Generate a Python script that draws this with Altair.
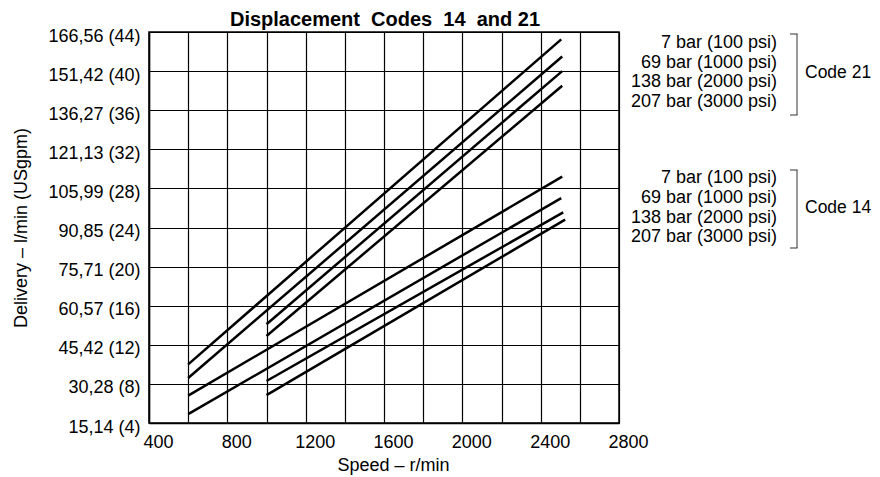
import altair as alt
import pandas as pd

# ---- data ----
series = [
    "Code 21 – 7 bar (100 psi)", "Code 21 – 69 bar (1000 psi)",
    "Code 21 – 138 bar (2000 psi)", "Code 21 – 207 bar (3000 psi)",
    "Code 14 – 7 bar (100 psi)", "Code 14 – 69 bar (1000 psi)",
    "Code 14 – 138 bar (2000 psi)", "Code 14 – 207 bar (3000 psi)",
]
speed_start = [600, 600, 1000, 1000, 600, 600, 1000, 1000]
speed_end = [2505, 2510, 2510, 2510, 2510, 2505, 2515, 2525]
gpm_start = [10.0, 8.6, 14.1, 12.9, 6.8, 4.9, 8.3, 6.85]
gpm_end = [43.25, 41.5, 40.0, 38.5, 29.2, 27.0, 25.55, 24.8]

y_ticks = [4, 8, 12, 16, 20, 24, 28, 32, 36, 40, 44]
y_tick_labels = ["15,14 (4)", "30,28 (8)", "45,42 (12)", "60,57 (16)", "75,71 (20)",
                 "90,85 (24)", "105,99 (28)", "121,13 (32)", "136,27 (36)",
                 "151,42 (40)", "166,56 (44)"]
x_grid = list(range(400, 2801, 200))

legend_rows = ["7 bar (100 psi)", "69 bar (1000 psi)", "138 bar (2000 psi)", "207 bar (3000 psi)"]
group_names = ["Code 21", "Code 14"]
chart_title = "Displacement\u00a0\u00a0Codes\u00a0\u00a014\u00a0\u00a0and 21"

rows = []
for s, x0, x1, y0, y1 in zip(series, speed_start, speed_end, gpm_start, gpm_end):
    rows.append({"series": s, "speed": x0, "gpm": y0})
    rows.append({"series": s, "speed": x1, "gpm": y1})
df = pd.DataFrame(rows)

FONT = "Liberation Sans"
label_arr = "[" + ",".join("'%s'" % t for t in y_tick_labels) + "]"

lines = alt.Chart(df).mark_line(color="black", strokeWidth=2.5).encode(
    x=alt.X("speed:Q",
            scale=alt.Scale(domain=[400, 2800], nice=False, zero=False),
            axis=alt.Axis(values=x_grid, grid=True, ticks=False,
                          labelExpr="datum.value % 400 == 0 ? datum.value : ''",
                          labelOverlap=False, labelFlush=False, labelBound=False,
                          labelOffset=9, labelPadding=10,
                          title="Speed – r/min", titleX=244, titlePadding=5)),
    y=alt.Y("gpm:Q",
            scale=alt.Scale(domain=[4, 44], nice=False, zero=False),
            axis=alt.Axis(values=y_ticks, grid=True, ticks=False,
                          labelExpr=label_arr + "[round(datum.value/4)-1]",
                          labelOverlap=False, labelFlush=False, labelBound=False,
                          labelPadding=9, labelOffset=4,
                          title="Delivery – l/min (USgpm)", titlePadding=17)),
    detail="series:N",
)

one = alt.Data(values=[{}])

title = alt.Chart(one).mark_text(
    text=chart_title, font=FONT, fontSize=20, fontWeight="bold",
    align="center", baseline="alphabetic", color="black",
).encode(x=alt.value(236), y=alt.value(-6))

leg21 = alt.Chart(one).mark_text(
    text=legend_rows, font=FONT, fontSize=18, align="right", baseline="middle",
    lineHeight=19.6, color="black",
).encode(x=alt.value(628), y=alt.value(11))

leg14 = alt.Chart(one).mark_text(
    text=legend_rows, font=FONT, fontSize=18, align="right", baseline="middle",
    lineHeight=19.8, color="black",
).encode(x=alt.value(628), y=alt.value(146))

code21 = alt.Chart(one).mark_text(
    text=group_names[0], font=FONT, fontSize=17.5, align="left", baseline="middle", color="black",
).encode(x=alt.value(656), y=alt.value(41))

code14 = alt.Chart(one).mark_text(
    text=group_names[1], font=FONT, fontSize=17.5, align="left", baseline="middle", color="black",
).encode(x=alt.value(656), y=alt.value(176))


def bracket(y_top, y_bot):
    rule = dict(color="#333333", strokeWidth=1)
    v = alt.Chart(one).mark_rule(**rule).encode(
        x=alt.value(648), y=alt.value(y_top), y2=alt.value(y_bot))
    t = alt.Chart(one).mark_rule(**rule).encode(
        x=alt.value(641), x2=alt.value(648.5), y=alt.value(y_top))
    b = alt.Chart(one).mark_rule(**rule).encode(
        x=alt.value(641), x2=alt.value(648.5), y=alt.value(y_bot))
    return v + t + b


chart = alt.layer(
    lines, title, leg21, leg14, code21, code14, bracket(2, 83), bracket(138, 216)
).properties(
    width=470, height=391,
    autosize=alt.AutoSizeParams(type="none"),
    padding={"left": 141, "top": 24, "right": 253, "bottom": 54},
    background="white",
).configure_view(
    stroke="black", strokeWidth=1.5
).configure_axis(
    gridColor="black", gridWidth=1.2, gridOpacity=1,
    domainColor="black", domainWidth=1.5,
    labelFont=FONT, labelFontSize=18, labelColor="black",
    titleFont=FONT, titleFontSize=18, titleColor="black", titleFontWeight="normal",
)

chart.save("out.html", embed_options={"renderer": "svg", "actions": False})
